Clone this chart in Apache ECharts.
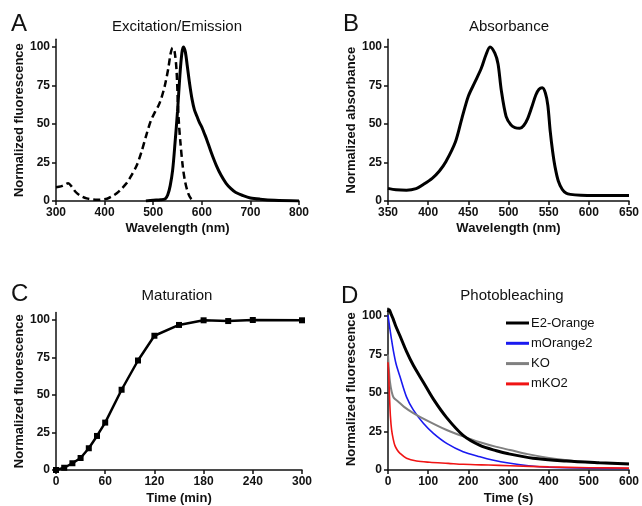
<!DOCTYPE html>
<html>
<head>
<meta charset="utf-8">
<script src="https://cdn.jsdelivr.net/npm/echarts@6/dist/echarts.min.js"></script>
<style>html,body{margin:0;padding:0;background:#fff}#c{width:642px;height:506px}</style>
</head>
<body>
<div id="c"></div>
<script>
// Panel A: excitation (dashed) and emission (solid)
const excX = [300,310,318,325,332,340,350,363,375,385,395,405,415,425,435,445,455,466,476,486,495,504,511,517,524,531,536,540,544,548,551,553,556,561,566,572,578,584];
const excY = [9,9.5,10.5,11.5,9.5,6,3.5,1.7,1,0.8,1,1.5,3,5,8,11.5,16.5,23,32,43,52,58,62,67,75,86,96,99.5,97,85,62,50,38,22,12,5,1.5,0];
const emX = [485,500,515,525,530,535,540,545,550,555,559,562,566,570,575,580,585,590,595,600,605,610,620,630,640,650,660,670,685,700,720,750,800];
const emY = [0,0.5,0.8,1.5,4,10,20,38,58,82,96,100,97,88,76,66,59,55,51,48,44,40,31,23,16.5,11.5,8,5.5,3.5,2,1.2,0.5,0];
// Panel B: absorbance
const absX = [350,360,373,385,393,405,414,422,434,442,450,458,466,472,477,483,487,491,497,503,508,514,519,524,529,534,538,542,546,549,552,555,558,562,567,572,577,590,610,650];
const absY = [8.2,7.3,7,8,10.4,14.7,19.5,25.5,38.5,53.7,68,77,86,95,100,96,89,72,55,49.4,47.6,47.2,49,53.7,61,68.8,72.5,73.5,70,62,45,32,22,13,7.5,5,4.3,3.8,3.6,3.5];
// Panel C: maturation
const matT = [0,10,20,30,40,50,60,80,100,120,150,180,210,240,300];
const matY = [0,1.5,4.5,8,14.5,22.7,31.6,53.5,73,89.5,96.7,99.8,99.3,100,99.8];
// Panel D: photobleaching
const tE2 = [0,3,8,13,20,30,46,63,88,113,146,187,229,270,300,361,444,526,600];
const vE2 = [102.5,104,101,98,93,87,77,68,57,46,34,22.5,16,12.5,10.5,7.6,5.8,4.7,3.9];
const tMO = [0,4,8,13,20,30,46,63,88,113,146,187,229,260,300,350,400,500,600];
const vMO = [100.5,93,86,78,69,60.5,47.5,39,30.3,23.8,17.3,11.9,8.6,6.5,4.5,2.8,1.8,1.2,1];
const tKO = [0,2,5,9,14,25,40,63,100,146,187,229,270,304,348,414,497,600];
const vKO = [75,66,57,51,47,44.5,41,37,31.8,26,21.8,18,15,13,10.3,7.3,5.1,4.1];
const tKO2 = [0,2,4,6,9,13,17,23,30,46,71,104,150,187,250,304,400,500,600];
const vKO2 = [70,60,46,35,26,20,16,13,10.8,7.6,5.8,5,4.3,3.7,3.2,2.8,2,1.5,1.2];
const yTicks = [0,25,50,75,100];
const legendNames = ['E2-Orange','mOrange2','KO','mKO2'];

const FONT = "'Liberation Sans', Arial, Helvetica, sans-serif";
const pair = (xs, ys) => xs.map((x, i) => [x, ys[i]]);

function xAx(idx, min, max, interval, name) {
  return {
    type: 'value', gridIndex: idx, min, max, interval,
    name, nameLocation: 'middle', nameGap: 21,
    nameTextStyle: {fontFamily: FONT, fontSize: 13, fontWeight: 'bold', color: '#111'},
    axisLine: {show: true, onZero: false, lineStyle: {color: '#111', width: 1.5}},
    axisTick: {show: true, inside: false, length: 4, lineStyle: {color: '#111', width: 1.5}},
    axisLabel: {fontFamily: FONT, fontSize: 12, fontWeight: 'bold', color: '#111', margin: 6},
    splitLine: {show: false}
  };
}
function yAx(idx, name) {
  return {
    type: 'value', gridIndex: idx, min: 0, max: 105, interval: 25,
    name, nameLocation: 'middle', nameGap: 27,
    nameTextStyle: {fontFamily: FONT, fontSize: 13, fontWeight: 'bold', color: '#111'},
    axisLine: {show: true, onZero: false, lineStyle: {color: '#111', width: 1.5}},
    axisTick: {show: true, inside: false, length: 4, customValues: yTicks, lineStyle: {color: '#111', width: 1.5}},
    axisLabel: {fontFamily: FONT, fontSize: 12, fontWeight: 'bold', color: '#111', margin: 6, customValues: yTicks},
    splitLine: {show: false}
  };
}
function txt(x, y, text, size) {
  return {type: 'text', x, y, style: {text, fontFamily: FONT, fontSize: size, fill: '#111', align: 'center', verticalAlign: 'middle'}};
}
function ltxt(x, y, text, size) {
  return {type: 'text', x, y, style: {text, fontFamily: FONT, fontSize: size, fill: '#111', align: 'left', verticalAlign: 'middle'}};
}

const option = {
  animation: false,
  backgroundColor: '#fff',
  grid: [
    {left: 56, top: 39.3, width: 243, height: 161.7},
    {left: 388, top: 39.3, width: 245, height: 161.7},
    {left: 56, top: 312.5, width: 246, height: 157.5},
    {left: 388, top: 308.3, width: 241, height: 161.7}
  ],
  xAxis: [
    xAx(0, 300, 800, 100, 'Wavelength (nm)'),
    xAx(1, 350, 650, 50, 'Wavelength (nm)'),
    Object.assign(xAx(2, 0, 300, 60, 'Time (min)'), {nameGap: 22}),
    Object.assign(xAx(3, 0, 600, 100, 'Time (s)'), {nameGap: 22})
  ],
  yAxis: [
    yAx(0, 'Normalized fluorescence'),
    yAx(1, 'Normalized absorbance'),
    yAx(2, 'Normalized fluorescence'),
    yAx(3, 'Normalized fluorescence')
  ],
  legend: {
    orient: 'vertical', left: 501, top: 311, itemWidth: 23, itemHeight: 3, itemGap: 6.3,
    icon: 'rect',
    textStyle: {fontFamily: FONT, fontSize: 13, color: '#111', lineHeight: 14, padding: [0, 0, 0, -3]},
    data: legendNames
  },
  graphic: [
    ltxt(11, 24, 'A', 24), ltxt(343, 24, 'B', 24), ltxt(11, 294, 'C', 24), ltxt(341, 296, 'D', 24),
    txt(177, 27, 'Excitation/Emission', 15), txt(509, 27, 'Absorbance', 15),
    txt(177, 296, 'Maturation', 15), txt(512, 296, 'Photobleaching', 15)
  ],
  series: [
    {type: 'line', xAxisIndex: 0, yAxisIndex: 0, data: pair(excX, excY), smooth: 0.3, symbol: 'none',
      lineStyle: {color: '#000', width: 2.5, type: [7, 4]}},
    {type: 'line', xAxisIndex: 0, yAxisIndex: 0, data: pair(emX, emY), smooth: 0.3, symbol: 'none',
      lineStyle: {color: '#000', width: 3}},
    {type: 'line', xAxisIndex: 1, yAxisIndex: 1, data: pair(absX, absY), smooth: 0.3, symbol: 'none',
      lineStyle: {color: '#000', width: 3}},
    {type: 'line', xAxisIndex: 2, yAxisIndex: 2, data: pair(matT, matY), symbol: 'rect', symbolSize: 6,
      itemStyle: {color: '#000'}, lineStyle: {color: '#000', width: 2.5}},
    {name: 'E2-Orange', type: 'line', xAxisIndex: 3, yAxisIndex: 3, data: pair(tE2, vE2), smooth: 0.3, symbol: 'none',
      itemStyle: {color: '#000'}, lineStyle: {color: '#000', width: 3}, z: 5},
    {name: 'mOrange2', type: 'line', xAxisIndex: 3, yAxisIndex: 3, data: pair(tMO, vMO), smooth: 0.3, symbol: 'none',
      itemStyle: {color: '#1a1af0'}, lineStyle: {color: '#1a1af0', width: 1.6}},
    {name: 'KO', type: 'line', xAxisIndex: 3, yAxisIndex: 3, data: pair(tKO, vKO), smooth: 0.3, symbol: 'none',
      itemStyle: {color: '#808080'}, lineStyle: {color: '#808080', width: 2}},
    {name: 'mKO2', type: 'line', xAxisIndex: 3, yAxisIndex: 3, data: pair(tKO2, vKO2), smooth: 0.3, symbol: 'none',
      itemStyle: {color: '#f01414'}, lineStyle: {color: '#f01414', width: 1.6}}
  ]
};
echarts.init(document.getElementById('c')).setOption(option);
</script>
</body>
</html>
